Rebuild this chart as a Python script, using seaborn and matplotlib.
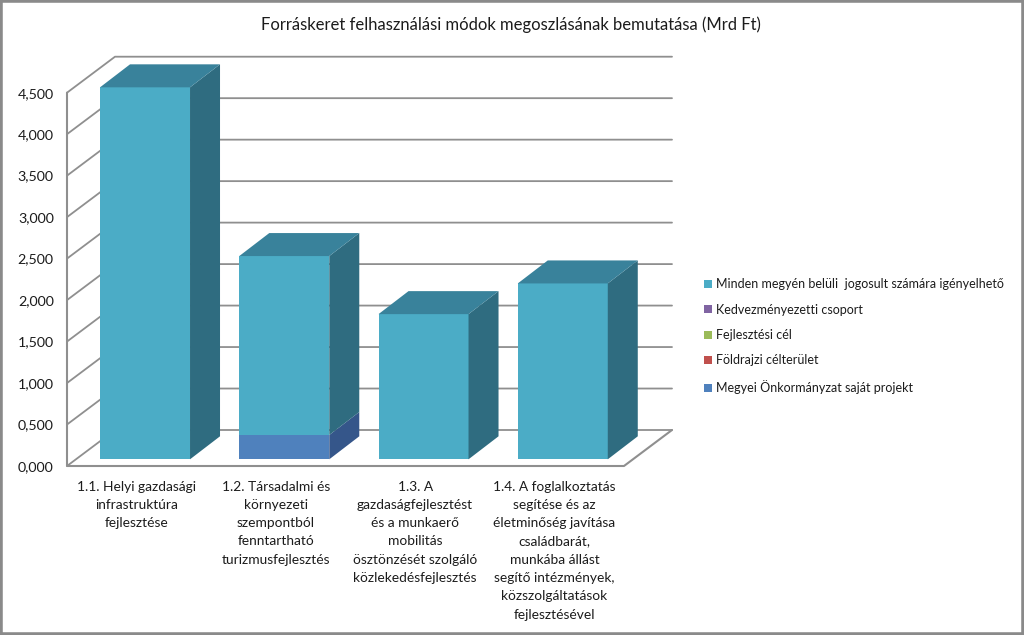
import numpy as np
import pandas as pd
import matplotlib
matplotlib.use("Agg")
import matplotlib.pyplot as plt
from matplotlib.patches import Rectangle
from matplotlib.lines import Line2D
import seaborn as sns

categories = [
    "1.1. Helyi gazdasági\ninfrastruktúra\nfejlesztése",
    "1.2. Társadalmi és\nkörnyezeti\nszempontból\nfenntartható\nturizmusfejlesztés",
    "1.3. A\ngazdaságfejlesztést\nés a munkaerő\nmobilitás\nösztönzését szolgáló\nközlekedésfejlesztés",
    "1.4. A foglalkoztatás\nsegítése és az\néletminőség javítása\ncsaládbarát,\nmunkába állást\nsegítő intézmények,\nközszolgáltatások\nfejlesztésével",
]
series_names = [
    "Megyei Önkormányzat saját projekt",
    "Földrajzi célterület",
    "Fejlesztési cél",
    "Kedvezményezetti csoport",
    "Minden megyén belüli  jogosult számára igényelhető",
]
megyei = [0.0, 0.293, 0.0, 0.0]
foldrajzi = [0.0, 0.0, 0.0, 0.0]
fejlesztesi = [0.0, 0.0, 0.0, 0.0]
kedvezmenyezetti = [0.0, 0.0, 0.0, 0.0]
minden = [4.484, 2.157, 1.75, 2.12]
series_values = [megyei, foldrajzi, fejlesztesi, kedvezmenyezetti, minden]

front_colors = ["#4f81bd", "#c0504d", "#9bbb59", "#8064a2", "#4bacc6"]
side_colors = ["#35568a", "#83322f", "#67803a", "#55426f", "#2f6c80"]
top_colors = ["#3f6699", "#9a3f3d", "#7d9847", "#674f83", "#39829b"]
y_ticks = [0, 0.5, 1, 1.5, 2, 2.5, 3, 3.5, 4, 4.5]
title = "Forráskeret felhasználási módok megoszlásának bemutatása (Mrd Ft)"

W, H = 1024, 635
FONT = "Lato"
TXT = "#1c1c1c"
GRID = "#8f8f8f"
sns.set_theme(style="white")
plt.rcParams["font.family"] = [FONT, "DejaVu Sans"]

fig = plt.figure(figsize=(W / 100, H / 100), dpi=100, facecolor="white")


def axes_box(x0, x1, ytop, ybot):
    return [x0 / W, 1 - ybot / H, (x1 - x0) / W, (ybot - ytop) / H]


# Wall axes: the front plane of the 3D box, carries scales and tick labels
wall = fig.add_axes(axes_box(67, 624, 92.7, 466))
wall.set_xlim(-0.5, 3.5)
wall.set_ylim(0, 4.5)
wall.patch.set_alpha(0)
for s in wall.spines.values():
    s.set_visible(False)
unit_x = 557 / 4
unit_y = 373.3 / 4.5
wd, wh = 48 / unit_x, 36 / unit_y
for v in y_ticks:
    wall.plot([-0.5, -0.5 + wd, 3.5 + wd], [v, v + wh, v + wh], color=GRID, lw=1.3, clip_on=False, zorder=1)
wall.plot([-0.5, -0.5, 3.5, 3.5 + wd], [4.5, 0, 0, wh], color=GRID, lw=1.5, clip_on=False, zorder=1)
wall.set_yticks(y_ticks)
wall.set_yticklabels([f"{v:.3f}".replace(".", ",") for v in y_ticks], fontsize=10.3, color=TXT)
wall.set_xticks(range(len(categories)))
wall.set_xticklabels(categories, fontsize=9.9, color=TXT, linespacing=1.63, va="top")
wall.tick_params(axis="y", length=0, pad=9.5)
wall.tick_params(axis="x", length=0, pad=10.5)

# Bar axes: same scales, shifted to where the bars stand inside the box
ax = fig.add_axes(axes_box(75.4, 632.4, 86, 459.3))
ax.set_xlim(-0.5, 3.5)
ax.set_ylim(0, 4.5)
ax.axis("off")
bar_w = 90 / unit_x
dx, dy = 30 / unit_x, 23 / unit_y

cats_idx = list(range(len(categories)))
bottom = np.zeros(len(categories))
for name, vals, fc, sc in zip(series_names, series_values, front_colors, side_colors):
    vals = np.array(vals)
    df = pd.DataFrame({"cat": cats_idx, "val": vals})
    sns.barplot(data=df, x="cat", y="val", order=cats_idx, color=fc, saturation=1, width=bar_w,
                bottom=bottom, ax=ax, errorbar=None, linewidth=0, zorder=3, native_scale=False)
    for i, (b, v) in enumerate(zip(bottom, vals)):
        if v > 0:
            xr = i + bar_w / 2
            ax.fill([xr, xr + dx, xr + dx, xr], [b, b + dy, b + v + dy, b + v], color=sc, lw=0, clip_on=False, zorder=3)
    bottom = bottom + vals
# top faces use the colour of the uppermost non-zero series
for i, tot in enumerate(bottom):
    k = max(j for j, s in enumerate(series_values) if s[i] > 0)
    xl, xr = i - bar_w / 2, i + bar_w / 2
    ax.fill([xl, xr, xr + dx, xl + dx], [tot, tot, tot + dy, tot + dy], color=top_colors[k], lw=0, clip_on=False, zorder=3)
ax.set_xlim(-0.5, 3.5)
ax.set_ylim(0, 4.5)
for p in ax.patches:
    p.set_clip_on(False)

fig.text(510.5 / W, 1 - 25 / H, title, ha="center", va="center", fontsize=12.0, color=TXT)

handles = [Line2D([], [], marker="s", ls="", ms=5.6, color=c, mew=0) for c in front_colors[::-1]]
leg = fig.legend(handles, series_names[::-1], loc="upper left", bbox_to_anchor=(700 / W, 1 - 278 / H),
                 frameon=False, fontsize=9.0, labelspacing=1.08, handletextpad=0.1, handlelength=1.2,
                 borderpad=0, borderaxespad=0, labelcolor=TXT)

# outer chart frame
fig.add_artist(Rectangle((0, 0), 1, 1, transform=fig.transFigure, fill=False, ec="#8a8a8a", lw=4, zorder=10))

fig.savefig("out.png", dpi=100, facecolor="white")
